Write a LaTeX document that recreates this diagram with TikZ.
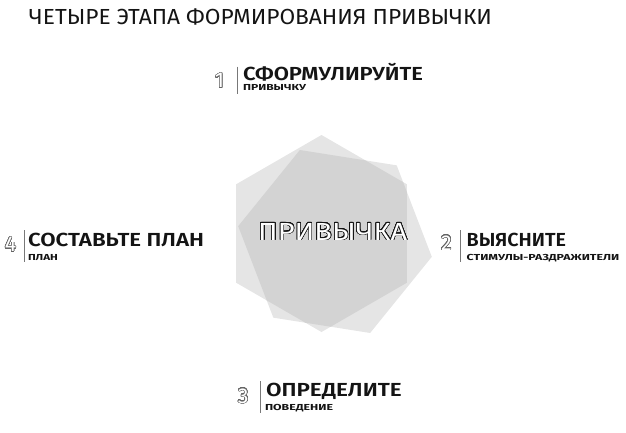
\documentclass[tikz,border=0pt]{standalone}
\usepackage{fontspec}
\setmainfont{Fira Sans}
\newfontfamily\semifont{Fira Sans SemiBold}
\usepackage{graphicx}
\usepackage[copies]{contour}
\usetikzlibrary{calc}
\contournumber{32}
\newsavebox{\fitbox}
\newcommand{\fitw}[2]{\sbox{\fitbox}{#2}\resizebox{#1}{\ht\fitbox}{\usebox{\fitbox}}}
\definecolor{hexpale}{RGB}{229,229,229}
\definecolor{hexdark}{RGB}{211,211,211}
\definecolor{digitgray}{RGB}{100,100,100}
\definecolor{rulegray}{RGB}{120,120,120}
\definecolor{ink}{RGB}{20,20,20}
\tikzset{
  lbl/.style={inner sep=0pt, outer sep=0pt, anchor=base west, text=ink},
  head/.style={lbl, font=\fontsize{18.9}{20}\selectfont\semifont},
  sub/.style={lbl, font=\fontsize{8.7}{10}\selectfont\bfseries},
  digit/.style={inner sep=0pt, outer sep=0pt, anchor=base, font=\fontsize{21.5}{24}\selectfont},
  divider/.style={draw=rulegray, line width=0.9pt},
}
\newcommand{\outdigit}[1]{\contourlength{0.55pt}\contour{digitgray}{\textcolor{white}{#1}}}
\begin{document}
\begin{tikzpicture}[x=1pt,y=-1pt]
\useasboundingbox (0,0) rectangle (626,433);
% hexagons
\coordinate (ca) at (321.5,233.5);
\coordinate (cb) at (335,241.5);
\fill[hexpale] ($(ca)+(30:98.5)$) -- ($(ca)+(90:98.5)$) -- ($(ca)+(150:98.5)$) -- ($(ca)+(210:98.5)$) -- ($(ca)+(270:98.5)$) -- ($(ca)+(330:98.5)$) -- cycle;
\fill[hexpale] ($(cb)+(9:98)$) -- ($(cb)+(69:98)$) -- ($(cb)+(129:98)$) -- ($(cb)+(189:98)$) -- ($(cb)+(249:98)$) -- ($(cb)+(309:98)$) -- cycle;
\begin{scope}
\clip ($(ca)+(30:98.5)$) -- ($(ca)+(90:98.5)$) -- ($(ca)+(150:98.5)$) -- ($(ca)+(210:98.5)$) -- ($(ca)+(270:98.5)$) -- ($(ca)+(330:98.5)$) -- cycle;
\fill[hexdark] ($(cb)+(9:98)$) -- ($(cb)+(69:98)$) -- ($(cb)+(129:98)$) -- ($(cb)+(189:98)$) -- ($(cb)+(249:98)$) -- ($(cb)+(309:98)$) -- cycle;
\end{scope}
% centre word
\node[inner sep=0pt, anchor=base west, font=\fontsize{24.7}{26}\selectfont] (habit) at (258,240)
  {\contourlength{0.6pt}\contour{ink}{\textcolor{white}{\fitw{149pt}{ПРИВЫЧКА}}}};
% title
\node[lbl, font=\fontsize{21.8}{24}\selectfont] (title) at (29,25) {\fitw{463pt}{ЧЕТЫРЕ ЭТАПА ФОРМИРОВАНИЯ ПРИВЫЧКИ}};
% step 1
\node[digit] (d1) at (219.5,88) {\outdigit{1}};
\draw[divider] (237.7,66.7) coordinate (r1a) -- (237.7,94) coordinate (r1b);
\node[head] (h1) at (243,80.3) {\fitw{180pt}{СФОРМУЛИРУЙТЕ}};
\node[sub] (s1) at (243,90.2) {\fitw{63pt}{ПРИВЫЧКУ}};
% step 2
\node[digit] (d2) at (446.5,250) {\outdigit{2}};
\draw[divider] (460,230) coordinate (r2a) -- (460,261.7) coordinate (r2b);
\node[head] (h2) at (466.7,246) {\fitw{99.3pt}{ВЫЯСНИТЕ}};
\node[sub] (s2) at (466.7,260.7) {\fitw{152.6pt}{СТИМУЛЫ-РАЗДРАЖИТЕЛИ}};
% step 3
\node[digit] (d3) at (243.3,403) {\outdigit{3}};
\draw[divider] (260,381) coordinate (r3a) -- (260,413) coordinate (r3b);
\node[head] (h3) at (266,396) {\fitw{135.7pt}{ОПРЕДЕЛИТЕ}};
\node[sub] (s3) at (265,410.3) {\fitw{68pt}{ПОВЕДЕНИЕ}};
% step 4
\node[digit] (d4) at (10.5,251.7) {\outdigit{4}};
\draw[divider] (24.3,230) coordinate (r4a) -- (24.3,261.7) coordinate (r4b);
\node[head] (h4) at (28,246) {\fitw{176pt}{СОСТАВЬТЕ ПЛАН}};
\node[sub] (s4) at (28,260.3) {\fitw{30pt}{ПЛАН}};
\end{tikzpicture}
\end{document}
